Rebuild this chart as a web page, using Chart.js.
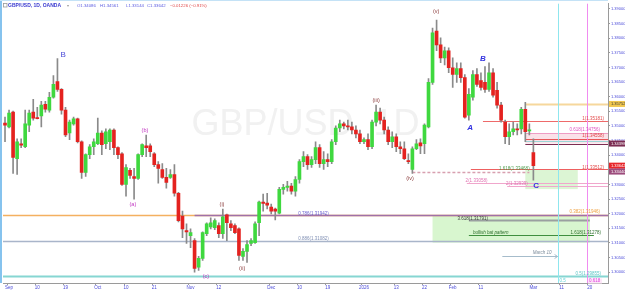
<!DOCTYPE html>
<html>
<head>
<meta charset="utf-8">
<script src="https://cdn.jsdelivr.net/npm/chart.js@4.4.1/dist/chart.umd.min.js"></script>
<style>
html,body{margin:0;padding:0;background:#fff;}
#wrap{width:625px;height:294px;position:relative;}
</style>
</head>
<body>
<div id="wrap"><canvas id="c" width="625" height="294"></canvas></div>
<script>
// GBP/USD daily candles (index 0 = 2025-08-29)
const opens = [
  1.3510,1.3497,1.3547,1.3388,1.3439,1.3429,1.3503,1.3547,1.3527,1.3534,
  1.3574,1.3554,1.3598,1.3652,1.3625,1.3554,1.3476,1.3507,1.3524,1.3446,
  1.3341,1.3402,1.3429,1.3439,1.3476,1.3439,1.3446,1.3486,1.3426,1.3405,
  1.3300,1.3348,1.3327,1.3321,1.3402,1.3432,1.3432,1.3405,1.3368,1.3351,
  1.3324,1.3324,1.3334,1.3270,1.3192,1.3142,1.3125,1.3108,1.3017,1.3047,
  1.3132,1.3155,1.3152,1.3159,1.3132,1.3196,1.3165,1.3159,1.3148,1.3054,
  1.3071,1.3098,1.3101,1.3169,1.3240,1.3236,1.3223,1.3216,1.3202,1.3283,
  1.3290,1.3294,1.3277,1.3317,1.3378,1.3395,1.3368,1.3385,1.3426,1.3371,
  1.3385,1.3378,1.3446,1.3493,1.3507,1.3500,1.3497,1.3486,1.3473,1.3446,
  1.3453,1.3429,1.3513,1.3547,1.3520,1.3486,1.3446,1.3463,1.3429,1.3422,
  1.3382,1.3351,1.3422,1.3442,1.3439,1.3497,1.3649,1.3824,1.3777,1.3733,
  1.3757,1.3699,1.3676,1.3696,1.3665,1.3537,1.3598,1.3676,1.3655,1.3649,
  1.3625,1.3682,1.3622,1.3571,1.3513,1.3463,1.3480,1.3490,1.3490,1.3557,
  1.3483,1.34086
];
const highs = [
  1.3530,1.3554,1.3551,1.3456,1.3456,1.3554,1.3554,1.3591,1.3564,1.3584,
  1.3584,1.3615,1.3672,1.3730,1.3628,1.3564,1.3520,1.3530,1.3527,1.3449,
  1.3405,1.3436,1.3456,1.3527,1.3483,1.3490,1.3490,1.3490,1.3429,1.3409,
  1.3368,1.3355,1.3355,1.3405,1.3439,1.3469,1.3439,1.3409,1.3378,1.3371,
  1.3355,1.3351,1.3368,1.3273,1.3209,1.3165,1.3148,1.3115,1.3054,1.3138,
  1.3169,1.3186,1.3182,1.3169,1.3216,1.3199,1.3176,1.3165,1.3152,1.3081,
  1.3108,1.3115,1.3172,1.3243,1.3267,1.3270,1.3233,1.3219,1.3290,1.3300,
  1.3311,1.3304,1.3327,1.3385,1.3412,1.3402,1.3395,1.3446,1.3436,1.3412,
  1.3405,1.3453,1.3500,1.3520,1.3513,1.3520,1.3513,1.3500,1.3486,1.3459,
  1.3473,1.3520,1.3571,1.3561,1.3530,1.3497,1.3480,1.3473,1.3446,1.3446,
  1.3405,1.3429,1.3453,1.3456,1.3507,1.3662,1.3835,1.3862,1.3801,1.3770,
  1.3767,1.3733,1.3716,1.3716,1.3676,1.3628,1.3689,1.3696,1.3682,1.3703,
  1.3716,1.3696,1.3649,1.3581,1.3520,1.3507,1.3513,1.3507,1.3564,1.3581,
  1.3507,1.34561
];
const lows = [
  1.3446,1.3493,1.3338,1.3334,1.3426,1.3426,1.3480,1.3520,1.3524,1.3497,
  1.3547,1.3547,1.3595,1.3618,1.3540,1.3463,1.3453,1.3503,1.3442,1.3321,
  1.3327,1.3388,1.3402,1.3436,1.3402,1.3422,1.3419,1.3402,1.3388,1.3297,
  1.3260,1.3321,1.3250,1.3317,1.3395,1.3395,1.3395,1.3361,1.3304,1.3321,
  1.3287,1.3321,1.3260,1.3172,1.3118,1.3098,1.3084,1.3000,1.3006,1.3040,
  1.3125,1.3148,1.3145,1.3118,1.3115,1.3108,1.3142,1.3132,1.3040,1.3040,
  1.3033,1.3091,1.3098,1.3125,1.3209,1.3216,1.3199,1.3179,1.3199,1.3267,
  1.3277,1.3267,1.3260,1.3304,1.3361,1.3351,1.3358,1.3371,1.3358,1.3351,
  1.3361,1.3371,1.3436,1.3480,1.3490,1.3486,1.3473,1.3459,1.3439,1.3439,
  1.3419,1.3422,1.3500,1.3507,1.3473,1.3436,1.3426,1.3412,1.3405,1.3385,
  1.3371,1.3338,1.3419,1.3405,1.3405,1.3493,1.3642,1.3757,1.3716,1.3709,
  1.3682,1.3632,1.3649,1.3649,1.3527,1.3520,1.3588,1.3635,1.3622,1.3615,
  1.3618,1.3598,1.3561,1.3513,1.3439,1.3436,1.3469,1.3469,1.3473,1.3446,
  1.3469,1.33144
];
const closes = [
  1.3503,1.3544,1.3392,1.3446,1.3434,1.3507,1.3544,1.3527,1.3525,1.3571,
  1.3557,1.3598,1.3642,1.3625,1.3554,1.3469,1.3513,1.3524,1.3446,1.3341,
  1.3402,1.3429,1.3446,1.3476,1.3436,1.3480,1.3486,1.3426,1.3402,1.3300,
  1.3358,1.3331,1.3321,1.3402,1.3436,1.3426,1.3412,1.3368,1.3355,1.3324,
  1.3307,1.3334,1.3270,1.3176,1.3148,1.3138,1.3135,1.3013,1.3047,1.3135,
  1.3165,1.3169,1.3176,1.3132,1.3189,1.3169,1.3152,1.3135,1.3057,1.3071,
  1.3094,1.3108,1.3165,1.3240,1.3235,1.3229,1.3209,1.3209,1.3283,1.3290,
  1.3294,1.3277,1.3317,1.3378,1.3395,1.3368,1.3385,1.3426,1.3371,1.3385,
  1.3378,1.3446,1.3493,1.3507,1.3500,1.3497,1.3486,1.3473,1.3446,1.3453,
  1.3429,1.3513,1.3547,1.3520,1.3486,1.3446,1.3463,1.3429,1.3422,1.3388,
  1.3378,1.3422,1.3439,1.3432,1.3503,1.3649,1.3818,1.3777,1.3733,1.3757,
  1.3699,1.3676,1.3696,1.3665,1.3530,1.3608,1.3676,1.3642,1.3632,1.3625,
  1.3682,1.3605,1.3571,1.3520,1.3463,1.3480,1.3490,1.3486,1.3557,1.3480,
  1.3486,1.33642
];

const startDate = '2025-08-29';
const barCount = 150;
const tickDates = ['2025-09-01','2025-09-10','2025-09-19','2025-10-01','2025-10-10','2025-10-21','2025-11-03','2025-11-12',
  '2025-12-01','2025-12-10','2025-12-19','2026-01-01','2026-01-13','2026-01-22','2026-02-02','2026-02-11',
  '2026-03-02','2026-03-11','2026-03-20'];
const tickNames = ['Sep','10','19','Oct','10','21','Nov','12','Dec','10','19','2026','13','22','Feb','11','Mar','11','20'];
const yTicks = [1.30,1.305,1.31,1.315,1.32,1.325,1.33,1.335,1.34,1.345,1.35,1.355,1.36,1.365,1.37,1.375,1.38,1.385,1.39];

// fib / pattern levels drawn on the chart
const levelPrices = {hi:1.35752, r1:1.35181, f618:1.34756, r2:1.34558, prev:1.34398, r3:1.33512, iv:1.33440,
  ext1:1.33058, ext2:1.32939, f382:1.31946, f786:1.31942, e3618:1.31791, e1618:1.31278, f886:1.31082, f50:1.29855};

const FONT = '"Liberation Sans", Arial, sans-serif';

function tradingDays(start, n){
  const out=[]; const d=new Date(start+'T00:00:00Z');
  while(out.length<n){
    const wd=d.getUTCDay();
    if(wd!==0 && wd!==6) out.push(d.toISOString().slice(0,10));
    d.setUTCDate(d.getUTCDate()+1);
  }
  return out;
}
const labels = tradingDays(startDate, barCount);
const tickMap = {};
tickDates.forEach((d,i)=>{ tickMap[d]=tickNames[i]; });

const wickData = lows.map((l,i)=>[l, highs[i]]);
const bodyData = opens.map((o,i)=>[o, closes[i]]);
const bodyColors = opens.map((o,i)=> closes[i]>=o ? '#3fd83f' : '#e4221f');

function txt(ctx, s, x, y, color, size, align, style){
  ctx.font = (style||'') + ' ' + size + 'px ' + FONT;
  ctx.fillStyle = color; ctx.textAlign = align||'left'; ctx.textBaseline = 'middle';
  ctx.fillText(s, x, y);
}

const drawings = {
  id:'drawings',
  beforeDatasetsDraw(chart){
    const {ctx, chartArea:a, scales:{x,y}} = chart;
    const px = i => x.getPixelForValue(i);
    const py = p => Math.round(y.getPixelForValue(p)) + 0.5;
    ctx.save();
    ctx.beginPath(); ctx.rect(a.left, a.top, a.right-a.left, a.bottom-a.top); ctx.clip();

    // watermark
    ctx.font = '36px ' + FONT; ctx.fillStyle = '#f1f1f1'; ctx.textAlign='center'; ctx.textBaseline='middle';
    ctx.fillText('GBP/USD, 1D', (a.left+a.right)/2, 125);

    // shaded boxes
    const box = (i0, i1, p0, p1, fill) => {
      const x0 = px(i0), x1 = i1===null ? a.right : px(i1);
      const y0 = y.getPixelForValue(p0), y1 = y.getPixelForValue(p1);
      ctx.fillStyle = fill; ctx.fillRect(x0, Math.min(y0,y1), x1-x0, Math.abs(y1-y0));
    };
    box(106, 145, 1.3192, 1.3101, '#d8f6cf');
    box(129, 142, levelPrices.r3, 1.3284, '#dcf5d4');
    box(129, null, levelPrices.f618, levelPrices.prev, 'rgba(240,170,190,0.35)');

    const line = (p, i0, i1, color, w, dash) => {
      const x0 = i0===null ? a.left : px(i0), x1 = i1===null ? a.right : px(i1);
      ctx.strokeStyle = color; ctx.lineWidth = w||1; ctx.setLineDash(dash||[]);
      ctx.beginPath(); ctx.moveTo(x0, py(p)); ctx.lineTo(x1, py(p)); ctx.stroke();
    };
    line(levelPrices.hi, 129, null, '#f6d79c', 2);
    line(levelPrices.r1, 118.5, null, '#ee6a6a');
    line(levelPrices.f618, 129, null, '#ef9cc4');
    line(levelPrices.r2, 129, null, '#e85858');
    line(1.3449, 129, null, '#9ad6d6');
    line(levelPrices.prev, 129, null, '#7b2d52');
    line(levelPrices.r3, 115.5, null, '#ee6060');
    line(levelPrices.iv, 101, 130, '#d8a0b0', 1.5, [3,2]);
    line(levelPrices.ext1, 114.5, null, '#f0a6cc');
    line(levelPrices.ext2, 124.5, null, '#f0a6cc');
    line(levelPrices.f382, null, null, '#f4b060', 1.5);
    line(levelPrices.f786, 47, null, '#a070a8', 1.5);
    line(levelPrices.e3618, 115, 145, '#9aa0a0', 2);
    line(levelPrices.e1618, 115, 146, '#3f8f3f');
    line(levelPrices.f886, null, null, '#a9b5ca', 1.5);
    line(levelPrices.f50, null, null, '#86d6d2', 2);
    ctx.setLineDash([]);

    // March 10 arrow
    const ay = py(1.3054);
    ctx.strokeStyle = '#a6bccb'; ctx.lineWidth = 1;
    ctx.beginPath(); ctx.moveTo(px(123.3), ay); ctx.lineTo(px(137), ay); ctx.stroke();
    ctx.beginPath(); ctx.moveTo(px(137)-3, ay-2); ctx.lineTo(px(137), ay); ctx.lineTo(px(137)-3, ay+2); ctx.stroke();

    // vertical time lines
    ctx.strokeStyle = '#8fe6ee'; ctx.beginPath(); ctx.moveTo(Math.round(px(137))+0.5, a.top); ctx.lineTo(Math.round(px(137))+0.5, a.bottom); ctx.stroke();
    ctx.strokeStyle = '#f08cf0'; ctx.beginPath(); ctx.moveTo(Math.round(px(144.3))+0.5, a.top); ctx.lineTo(Math.round(px(144.3))+0.5, a.bottom); ctx.stroke();
    ctx.restore();
  },
  afterDatasetsDraw(chart){
    const {ctx, chartArea:a, scales:{x,y}} = chart;
    const px = i => x.getPixelForValue(i);
    const py = p => y.getPixelForValue(p);
    const R = a.right - 4;
    ctx.save();

    // level texts
    txt(ctx,'1(1.35181)', R, py(levelPrices.r1)-2, '#e24848', 4.5, 'right');
    txt(ctx,'0.618(1.34756)', R-4, py(levelPrices.f618)-3.5, '#e050c0', 4.5, 'right');
    txt(ctx,'1(1.34558)', R, py(levelPrices.r2)-3, '#e24848', 4.5, 'right');
    txt(ctx,'1(1.33512)', R, py(levelPrices.r3)-2, '#e24848', 4.5, 'right');
    txt(ctx,'1.618(1.33468)', px(122.5), py(levelPrices.iv)-2.5, '#4a9a4a', 4.5, 'left');
    txt(ctx,'2(1.33058)', px(114.2), py(levelPrices.ext1)-2, '#e070b0', 4.5, 'left');
    txt(ctx,'2(1.32939)', px(124.2), py(levelPrices.ext2)-2, '#e070b0', 4.5, 'left');
    txt(ctx,'0.786(1.31942)', px(72.7), py(levelPrices.f786)-2, '#6a60d0', 4.5, 'left');
    txt(ctx,'0.382(1.31946)', R-4, py(levelPrices.f382)-3, '#eea040', 4.5, 'right');
    txt(ctx,'3.618(1.31791)', px(112.2), py(levelPrices.e3618)-1, '#3a3a3a', 4.5, 'left');
    txt(ctx,'bullish bat pattern', px(116), py(1.3135), '#2a6a2a', 4.5, 'left', 'italic');
    txt(ctx,'1.618(1.31278)', R-3, py(levelPrices.e1618)-2, '#2f6f2f', 4.5, 'right');
    txt(ctx,'0.886(1.31082)', px(72.7), py(levelPrices.f886)-2, '#8090b4', 4.5, 'left');
    txt(ctx,'March 10', px(135.5), py(1.3067), '#7b8b9a', 4.5, 'right', 'italic');
    txt(ctx,'0.5(1.29855)', R-3, py(levelPrices.f50)-2.5, '#5cc6c6', 4.5, 'right');
    txt(ctx,'0.5', px(137)+2, a.bottom-2, '#60d4d8', 4.5, 'left');
    ctx.fillStyle = '#fde6f8'; ctx.fillRect(px(144.3)+1, a.bottom-4.5, 14, 5);
    txt(ctx,'0.618', px(144.3)+2, a.bottom-2, '#e040e0', 4.5, 'left');

    // wave labels
    const wave = (s, i, p, color, size, style) => txt(ctx, s, px(i), py(p), color, size, 'center', style);
    wave('B', 14.4, 1.3743, '#4b4bd8', 8);
    wave('(a)', 31.7, 1.3230, '#c035c0', 5.5);
    wave('(b)', 34.7, 1.3486, '#c035c0', 5.5);
    wave('(c)', 49.8, 1.2986, '#c035c0', 5.5);
    wave('(i)', 53.8, 1.3233, '#8b3c3c', 5.5);
    wave('(ii)', 58.8, 1.3013, '#8b3c3c', 5.5);
    wave('(iii)', 92, 1.3588, '#8b3c3c', 5.5);
    wave('(iv)', 100.4, 1.3321, '#8b3c3c', 5.5);
    wave('(v)', 106.9, 1.3892, '#8b3c3c', 5.5);
    wave('A', 115.3, 1.3493, '#3434e0', 8, 'italic bold');
    wave('B', 118.5, 1.3730, '#3434e0', 8, 'italic bold');
    wave('C', 131.7, 1.3297, '#3434e0', 8, 'bold');

    // price boxes on the axis
    const tag = (p, bg, fg) => {
      const yy = py(p);
      ctx.fillStyle = bg; ctx.fillRect(a.right+1, yy-3, 625-a.right-1, 6);
      txt(ctx, p.toFixed(5), a.right+3, yy+0.3, fg, 4, 'left');
    };
    tag(levelPrices.hi, '#f1c74f', '#3a3a3a');
    tag(levelPrices.prev, '#7b2d52', '#ffffff');
    tag(1.33642, '#e8262b', '#ffffff');
    tag(levelPrices.iv, '#9c4c7c', '#ffffff');

    // header
    ctx.strokeStyle = '#9a9a9a'; ctx.lineWidth = 0.8; ctx.strokeRect(3.5, 3.5, 3.5, 3.5);
    txt(ctx,'GBP/USD, 1D, OANDA', 8, 5.5, '#3a3ad0', 5, 'left', 'bold');
    txt(ctx,'\u25BE', 67, 5.5, '#9a9a9a', 4, 'left');
    txt(ctx,'O1.34086', 77, 5.5, '#5a5ae0', 4.3, 'left');
    txt(ctx,'H1.34561', 100, 5.5, '#5a5ae0', 4.3, 'left');
    txt(ctx,'L1.33144', 126, 5.5, '#5a5ae0', 4.3, 'left');
    txt(ctx,'C1.33642', 147, 5.5, '#5a5ae0', 4.3, 'left');
    txt(ctx,'\u22120.01226 (\u22120.91%)', 170, 5.5, '#e04848', 4.3, 'left');

    // frame accents
    ctx.fillStyle = '#86c3ee'; ctx.fillRect(0, 0, 2, a.bottom);
    ctx.fillStyle = '#c4e2f6'; ctx.fillRect(0, 0, a.right, 1);
    ctx.restore();
  }
};

new Chart(document.getElementById('c'), {
  type:'bar',
  data:{
    labels: labels,
    datasets:[
      {data: wickData, backgroundColor:'#8a8a8a', barThickness:1, grouped:false, order:2},
      {data: bodyData, backgroundColor: bodyColors, barThickness:3, minBarLength:1, grouped:false, order:1}
    ]
  },
  options:{
    responsive:false, animation:false, devicePixelRatio:1,
    layout:{padding:{left:3, top:0, right:0, bottom:0}},
    plugins:{legend:{display:false}, tooltip:{enabled:false}},
    scales:{
      x:{
        type:'category', offset:true,
        grid:{display:true, drawOnChartArea:false, tickLength:2,
          color: c => (c.tick && tickMap[labels[c.tick.value]]) ? '#9a9a9a' : 'rgba(0,0,0,0)'},
        border:{color:'#9a9a9a'},
        ticks:{autoSkip:false, maxRotation:0, minRotation:0, padding:0, color:'#4a4ad8',
          font:{size:4.5, family:FONT}, callback:(v)=> tickMap[labels[v]] || ''},
        afterFit: s => { s.height = 11; }
      },
      y:{
        position:'right', min:1.2963, max:1.3919,
        afterBuildTicks: s => { s.ticks = yTicks.map(v=>({value:v})); },
        grid:{drawOnChartArea:false, tickLength:2, color:'#9a9a9a'},
        border:{color:'#9a9a9a'},
        ticks:{padding:1, color:'#4a4ad8', font:{size:4, family:FONT}, callback: v => Number(v).toFixed(5)},
        afterFit: s => { s.width = 17; }
      }
    }
  },
  plugins:[drawings]
});
</script>
</body>
</html>
